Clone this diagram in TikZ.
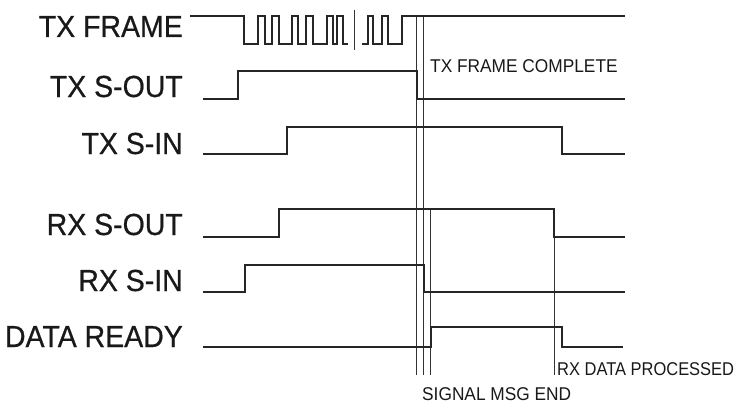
\documentclass[tikz,border=0pt]{standalone}
\usepackage{fontspec}
\setmainfont{Liberation Sans}
\newfontfamily\biglabfont[FakeStretch=0.934,FakeBold=0.6]{Liberation Sans}
\newfontfamily\smallnotefont[FakeStretch=0.935]{Liberation Sans}
\newfontfamily\narrownotefont[FakeStretch=0.89]{Liberation Sans}
\begin{document}
\begin{tikzpicture}[x=1pt,y=-1pt,
  sig/.style={line width=2pt, draw=black!85, line join=miter, line cap=butt},
  markline/.style={line width=0.9pt, draw=black!80},
  lab/.style={anchor=base east, inner sep=0pt, text=black!90, font=\biglabfont\fontsize{30.5}{32}\selectfont},
  note/.style={anchor=base west, inner sep=0pt, text=black!90, font=\smallnotefont\fontsize{18.5}{20}\selectfont},
  narrownote/.style={note, font=\narrownotefont\fontsize{18.5}{20}\selectfont}]
\useasboundingbox (0,0) rectangle (741,404);
\fill[white] (0,0) rectangle (741,404);

% labels
\node[lab] (ltxf) at (183,37) {TX FRAME};
\node[lab] (ltxso) at (183,97) {TX S-OUT};
\node[lab] (ltxsi) at (183,154) {TX S-IN};
\node[lab] (lrxso) at (183,235) {RX S-OUT};
\node[lab] (lrxsi) at (183,291) {RX S-IN};
\node[lab] (ldr) at (183,347) {DATA READY};

% marker lines
\coordinate (m1t) at (416.7,16);  \coordinate (m1b) at (416.7,375);
\coordinate (m2t) at (423.5,16);  \coordinate (m2b) at (423.5,375);
\coordinate (m3t) at (430.7,209); \coordinate (m3b) at (430.7,375);
\coordinate (m4t) at (554,209);   \coordinate (m4b) at (554,375);
\draw[markline] (m1t) -- (m1b);
\draw[markline] (m2t) -- (m2b);
\draw[markline] (m3t) -- (m3b);
\draw[markline] (m4t) -- (m4b);

% TX FRAME
\draw[sig] (190,16) -- (244,16) -- (244,44) -- (258,44) -- (258,16) -- (265,16) -- (265,44) -- (272,44) -- (272,16) -- (279,16) -- (279,44) -- (292,44) -- (292,16) -- (298,16) -- (298,44) -- (306,44) -- (306,16) -- (313,16) -- (313,44) -- (327,44) -- (327,16) -- (333,16) -- (333,44) -- (337,44) -- (337,16) -- (343,16) -- (343,44) -- (348,44);
\draw[markline] (354,10) -- (354,50);
\draw[sig] (361.7,44) -- (368,44) -- (368,16) -- (373,16) -- (373,44) -- (382,44) -- (382,16) -- (388,16) -- (388,44) -- (402,44) -- (402,16) -- (625,16);

% TX S-OUT
\draw[sig] (203,99) -- (238,99) -- (238,71) -- (416.7,71) -- (416.7,99) -- (625,99);
% TX S-IN
\draw[sig] (203,154) -- (287,154) -- (287,127) -- (562,127) -- (562,154) -- (625,154);
% RX S-OUT
\draw[sig] (203,237) -- (279,237) -- (279,209) -- (554,209) -- (554,237) -- (625,237);
% RX S-IN
\draw[sig] (203,292) -- (245,292) -- (245,265) -- (424,265) -- (424,292) -- (625,292);
% DATA READY
\draw[sig] (203,347) -- (430.7,347) -- (430.7,327) -- (562,327) -- (562,347) -- (623,347);

% notes
\node[note] (ntfc) at (430,72) {TX FRAME COMPLETE};
\node[note] (nsme) at (422,400) {SIGNAL MSG END};
\node[narrownote] (nrdp) at (557,375) {RX DATA PROCESSED};
\end{tikzpicture}
\end{document}
